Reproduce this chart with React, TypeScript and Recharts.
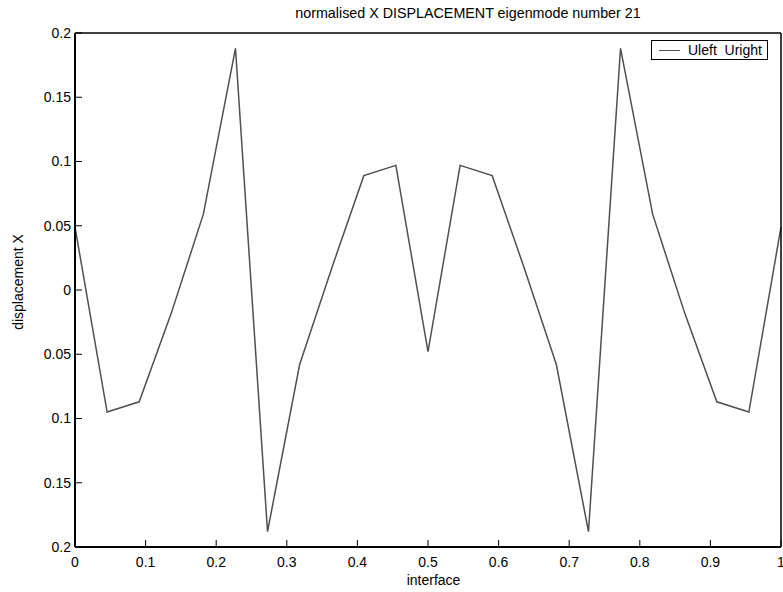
import React from "react";
import { LineChart, Line, XAxis, YAxis, Legend } from "recharts";

const xValues = [0, 0.0455, 0.0909, 0.1364, 0.1818, 0.2273, 0.2727, 0.3182, 0.3636, 0.4091, 0.4545, 0.5, 0.5455, 0.5909, 0.6364, 0.6818, 0.7273, 0.7727, 0.8182, 0.8636, 0.9091, 0.9545, 1];
const uValues = [0.049, -0.095, -0.087, -0.018, 0.059, 0.188, -0.188, -0.058, 0.017, 0.089, 0.097, -0.048, 0.097, 0.089, 0.017, -0.058, -0.188, 0.188, 0.059, -0.018, -0.087, -0.095, 0.049];
const xTicks = [0, 0.1, 0.2, 0.3, 0.4, 0.5, 0.6, 0.7, 0.8, 0.9, 1];
const yTicks = [-0.2, -0.15, -0.1, -0.05, 0, 0.05, 0.1, 0.15, 0.2];
const seriesName = "Uleft  Uright";
const title = "normalised X DISPLACEMENT eigenmode number 21";
const xLabel = "interface";
const yLabel = "displacement X";

const data = xValues.map((x, i) => ({ x, y: uValues[i] }));

const FONT = "'Liberation Sans', Arial, Helvetica, sans-serif";

const fmtY = (v: number) => {
  const a = Math.abs(v);
  return String(parseFloat(a.toFixed(2)));
};
const fmtX = (v: number) => String(parseFloat(v.toFixed(2)));

const LegendBox = () => (
  <div
    style={{
      boxSizing: "border-box",
      width: 117,
      height: 20,
      border: "1.5px solid #000",
      background: "#fff",
      display: "flex",
      alignItems: "center",
      fontFamily: FONT,
      fontSize: 14,
      color: "#000",
    }}
  >
    <div style={{ width: 21, height: 0, borderTop: "1.5px solid #505050", marginLeft: 7, marginRight: 8 }} />
    <span style={{ whiteSpace: "pre", lineHeight: "14px" }}>{seriesName}</span>
  </div>
);

export default function App() {
  const tickStyle = { fontSize: 14, fontFamily: FONT, fill: "#000" };
  return (
    <div style={{ position: "absolute", left: 0, top: 0, width: 783, height: 592, background: "#fff", fontFamily: FONT }}>
      <LineChart width={783} height={592} data={data} margin={{ top: 32, right: 1, bottom: 44, left: 74 }}>
        <XAxis
          xAxisId="bottom"
          dataKey="x"
          type="number"
          domain={[0, 1]}
          ticks={xTicks}
          tickFormatter={fmtX}
          height={1}
          orientation="bottom"
          tickSize={-7}
          tickMargin={17}
          tick={tickStyle}
          axisLine={{ stroke: "#000", strokeWidth: 2 }}
          tickLine={{ stroke: "#000", strokeWidth: 1 }}
          interval={0}
        />
        <XAxis
          xAxisId="top"
          dataKey="x"
          type="number"
          domain={[0, 1]}
          ticks={xTicks}
          height={1}
          orientation="top"
          tickSize={-7}
          tick={false}
          axisLine={{ stroke: "#000", strokeWidth: 1.5 }}
          tickLine={{ stroke: "#000", strokeWidth: 1 }}
          interval={0}
        />
        <YAxis
          yAxisId="left"
          type="number"
          domain={[-0.2, 0.2]}
          ticks={yTicks}
          tickFormatter={fmtY}
          width={1}
          orientation="left"
          tickSize={-7}
          tickMargin={11}
          tick={tickStyle}
          axisLine={{ stroke: "#000", strokeWidth: 2 }}
          tickLine={{ stroke: "#000", strokeWidth: 1 }}
          interval={0}
        />
        <YAxis
          yAxisId="right"
          type="number"
          domain={[-0.2, 0.2]}
          ticks={yTicks}
          width={1}
          orientation="right"
          tickSize={-7}
          tick={false}
          axisLine={{ stroke: "#000", strokeWidth: 1.5 }}
          tickLine={{ stroke: "#000", strokeWidth: 1 }}
          interval={0}
        />
        <Legend
          layout="vertical"
          align="center"
          verticalAlign="middle"
          content={() => <LegendBox />}
          wrapperStyle={{ top: 40, left: 651, width: 117, height: 20 }}
        />
        <Line
          xAxisId="top"
          yAxisId="right"
          dataKey="y"
          stroke="none"
          dot={false}
          activeDot={false}
          legendType="none"
          isAnimationActive={false}
        />
        <Line
          xAxisId="bottom"
          yAxisId="left"
          dataKey="y"
          name={seriesName}
          type="linear"
          stroke="#505050"
          strokeWidth={1.5}
          dot={false}
          activeDot={false}
          isAnimationActive={false}
        />
      </LineChart>
      <div style={{ position: "absolute", left: 0, width: 936, top: 4, textAlign: "center", fontSize: 14.3, lineHeight: "18px", whiteSpace: "nowrap", color: "#000" }}>
        {title}
      </div>
      <div style={{ position: "absolute", left: 75, width: 717, top: 571, textAlign: "center", fontSize: 14, lineHeight: "18px", whiteSpace: "nowrap", color: "#000" }}>
        {xLabel}
      </div>
      <div
        style={{
          position: "absolute",
          left: 18,
          top: 282,
          transform: "translate(-50%, -50%) rotate(-90deg)",
          fontSize: 14,
          lineHeight: "16px",
          whiteSpace: "nowrap",
          color: "#000",
        }}
      >
        {yLabel}
      </div>
    </div>
  );
}
